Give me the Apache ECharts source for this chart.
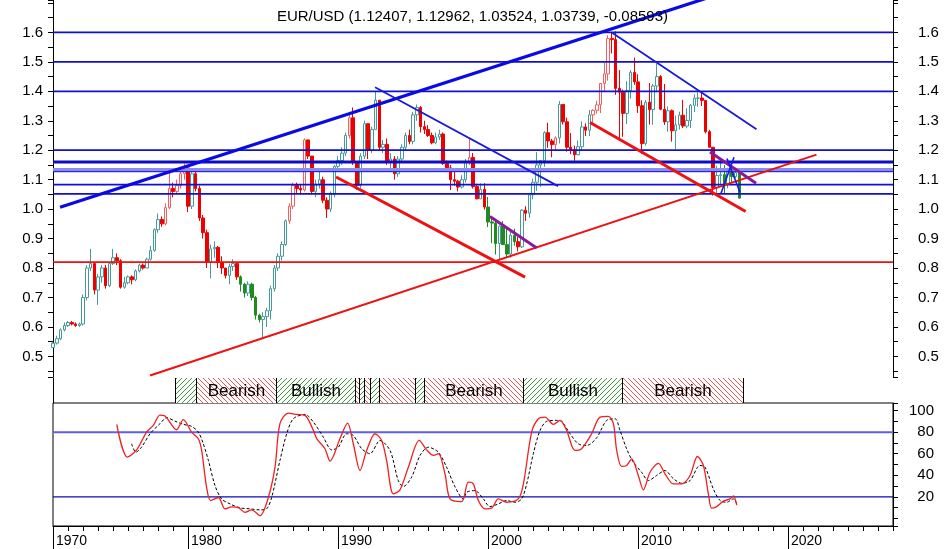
<!DOCTYPE html>
<html>
<head>
<meta charset="utf-8">
<script src="https://cdn.jsdelivr.net/npm/echarts@6/dist/echarts.min.js"></script>
<style>
html, body { margin: 0; padding: 0; background: #fff; }
#chart { width: 945px; height: 549px; }
</style>
</head>
<body>
<div id="chart"></div>
<script>
var chartDom = document.getElementById('chart');
var myChart = echarts.init(chartDom);
var option;

// quarterly EUR/USD, one row per year (Q1..Q4), open = previous close
var firstYear = 1971;
var firstOpen = 0.53;
var closes = [
  0.545, 0.56, 0.59, 0.605,
  0.615, 0.61, 0.605, 0.61,
  0.70, 0.80, 0.815, 0.725,
  0.77, 0.80, 0.74, 0.815,
  0.835, 0.825, 0.735, 0.75,
  0.77, 0.76, 0.79, 0.81,
  0.80, 0.83, 0.86, 0.93,
  0.965, 0.95, 1.005, 1.07,
  1.06, 1.08, 1.12, 1.14,
  1.01, 1.12, 1.07, 0.97,
  0.92, 0.82, 0.865, 0.87,
  0.82, 0.80, 0.775, 0.805,
  0.815, 0.77, 0.745, 0.715,
  0.745, 0.70, 0.64, 0.625,
  0.635, 0.655, 0.73, 0.80,
  0.84, 0.88, 0.96, 1.01,
  1.08, 1.07, 1.065, 1.235,
  1.18, 1.06, 1.085, 1.10,
  1.03, 1.00, 1.05, 1.145,
  1.165, 1.19, 1.25, 1.31,
  1.16, 1.08, 1.18, 1.29,
  1.20, 1.27, 1.37, 1.21,
  1.22, 1.16, 1.17, 1.12,
  1.17, 1.21, 1.25, 1.23,
  1.32, 1.345, 1.28, 1.27,
  1.25, 1.225, 1.245, 1.255,
  1.155, 1.14, 1.10, 1.095,
  1.075, 1.10, 1.16, 1.175,
  1.0765, 1.0348, 1.0671, 1.0070,
  0.9565, 0.9525, 0.8830, 0.9420,
  0.8795, 0.8475, 0.9110, 0.8895,
  0.8720, 0.9965, 0.9860, 1.0488,
  1.0910, 1.1500, 1.1645, 1.2595,
  1.2315, 1.2190, 1.2420, 1.3555,
  1.2965, 1.2100, 1.2025, 1.1845,
  1.2120, 1.2790, 1.2680, 1.3200,
  1.3355, 1.3540, 1.4265, 1.4590,
  1.5790, 1.5755, 1.4100, 1.3970,
  1.3250, 1.4030, 1.4640, 1.4320,
  1.3510, 1.2225, 1.3630, 1.3380,
  1.4180, 1.4500, 1.3390, 1.2960,
  1.3340, 1.2660, 1.2860, 1.3190,
  1.2820, 1.3010, 1.3525, 1.3765,
  1.3770, 1.3690, 1.2630, 1.2100,
  1.0730, 1.1140, 1.1170, 1.0860,
  1.1380, 1.1105, 1.1240, 1.03739
];
var highs = [
  0.55, 0.57, 0.595, 0.615,
  0.62, 0.62, 0.615, 0.615,
  0.71, 0.81, 0.865, 0.82,
  0.78, 0.81, 0.81, 0.82,
  0.865, 0.85, 0.83, 0.77,
  0.775, 0.775, 0.795, 0.815,
  0.815, 0.835, 0.875, 0.935,
  0.985, 0.975, 1.02, 1.135,
  1.09, 1.10, 1.135, 1.155,
  1.15, 1.13, 1.13, 1.08,
  0.98, 0.93, 0.88, 0.89,
  0.875, 0.84, 0.80, 0.815,
  0.83, 0.82, 0.775, 0.75,
  0.755, 0.75, 0.705, 0.645,
  0.65, 0.665, 0.74, 0.81,
  0.85, 0.89, 0.965, 1.02,
  1.09, 1.09, 1.085, 1.24,
  1.235, 1.18, 1.10, 1.13,
  1.11, 1.04, 1.06, 1.15,
  1.18, 1.21, 1.26, 1.33,
  1.345, 1.16, 1.19, 1.30,
  1.29, 1.28, 1.40, 1.37,
  1.235, 1.24, 1.19, 1.18,
  1.18, 1.22, 1.26, 1.27,
  1.33, 1.355, 1.35, 1.30,
  1.285, 1.26, 1.26, 1.27,
  1.26, 1.165, 1.15, 1.13,
  1.10, 1.115, 1.17, 1.24,
  1.1906, 1.0865, 1.0876, 1.0880,
  1.0414, 0.9720, 0.9597, 0.9440,
  0.9593, 0.9389, 0.9321, 0.9335,
  0.9051, 0.9999, 1.0097, 1.0500,
  1.1037, 1.1933, 1.1650, 1.2647,
  1.2930, 1.2385, 1.2470, 1.3667,
  1.3480, 1.3105, 1.2580, 1.2155,
  1.2330, 1.2980, 1.2910, 1.3365,
  1.3390, 1.3680, 1.4280, 1.4965,
  1.5905, 1.5980, 1.6038, 1.4720,
  1.4060, 1.4340, 1.4720, 1.5145,
  1.4580, 1.3695, 1.3705, 1.4280,
  1.4250, 1.4940, 1.4550, 1.4250,
  1.3485, 1.3385, 1.3175, 1.3310,
  1.3710, 1.3420, 1.3570, 1.3895,
  1.3965, 1.3995, 1.3700, 1.2690,
  1.2100, 1.1470, 1.1715, 1.1495,
  1.1405, 1.1615, 1.1365, 1.12962
];
var lows = [
  0.53, 0.54, 0.555, 0.585,
  0.60, 0.605, 0.60, 0.60,
  0.605, 0.69, 0.79, 0.71,
  0.675, 0.75, 0.73, 0.735,
  0.81, 0.81, 0.73, 0.73,
  0.745, 0.745, 0.755, 0.785,
  0.795, 0.80, 0.825, 0.855,
  0.92, 0.94, 0.945, 1.0,
  1.04, 1.05, 1.07, 1.10,
  0.99, 1.0, 1.06, 0.96,
  0.90, 0.80, 0.765, 0.835,
  0.80, 0.78, 0.765, 0.745,
  0.79, 0.76, 0.72, 0.70,
  0.705, 0.69, 0.625, 0.615,
  0.565, 0.60, 0.625, 0.72,
  0.79, 0.825, 0.875, 0.95,
  1.0, 1.055, 1.05, 1.06,
  1.17, 1.05, 1.04, 1.07,
  1.02, 0.97, 0.99, 1.04,
  1.13, 1.15, 1.18, 1.24,
  1.15, 1.065, 1.07, 1.17,
  1.17, 1.19, 1.27, 1.20,
  1.19, 1.15, 1.13, 1.10,
  1.11, 1.16, 1.20, 1.22,
  1.22, 1.30, 1.26, 1.255,
  1.245, 1.22, 1.22, 1.235,
  1.15, 1.13, 1.065, 1.08,
  1.06, 1.07, 1.09, 1.15,
  1.0700, 1.0335, 1.0350, 0.9985,
  0.9390, 0.8844, 0.8458, 0.8230,
  0.8780, 0.8363, 0.8350, 0.8765,
  0.8564, 0.8680, 0.9600, 0.9705,
  1.0333, 1.0620, 1.0760, 1.1435,
  1.2080, 1.1760, 1.2000, 1.2230,
  1.2870, 1.1950, 1.1865, 1.1640,
  1.1830, 1.2010, 1.2480, 1.2480,
  1.2865, 1.3240, 1.3260, 1.4000,
  1.4360, 1.5285, 1.3880, 1.2330,
  1.2455, 1.2885, 1.3750, 1.4220,
  1.3265, 1.1875, 1.2155, 1.2870,
  1.2860, 1.3970, 1.3360, 1.2860,
  1.2625, 1.2290, 1.2040, 1.2700,
  1.2750, 1.2745, 1.2755, 1.3295,
  1.3475, 1.3500, 1.2570, 1.2100,
  1.0460, 1.0520, 1.0810, 1.0520,
  1.0710, 1.0910, 1.1045, 1.03524
];

// stochastic %K (red) and %D (dashed)
var kYears = [1975.25, 1975.96, 1976.58, 1977.24, 1977.69, 1978.13, 1978.47, 1979.24, 1979.69, 1980.24,
  1980.69, 1980.91, 1981.24, 1981.51, 1982.02, 1982.47, 1982.91, 1983.36, 1983.8, 1984.24,
  1984.8, 1985.36, 1985.8, 1986.13, 1986.69, 1987.24, 1987.8, 1988.36, 1988.58, 1989.13,
  1989.47, 1990.13, 1990.64, 1991.02, 1991.47, 1991.91, 1992.47, 1992.91, 1993.24, 1993.69,
  1994.13, 1994.69, 1995.42, 1995.91, 1996.36, 1996.69, 1997.13, 1997.47, 1998.24, 1998.69,
  1999.02, 1999.36, 1999.8, 2000.24, 2000.69, 2001.24, 2002.02, 2002.36, 2002.91, 2003.36,
  2003.8, 2004.36, 2004.8, 2005.24, 2005.8, 2006.24, 2006.91, 2007.47, 2008.02, 2008.36,
  2008.58, 2008.91, 2009.24, 2009.58, 2010.02, 2010.36, 2010.8, 2011.36, 2011.8, 2012.36,
  2012.91, 2013.47, 2013.96, 2014.36, 2014.69, 2014.91, 2015.24, 2015.69, 2016.13, 2016.36, 2016.58];
var kValues = [87.2, 56.8, 63.6, 80, 86.2, 95.8, 95, 82.2, 91.5, 80,
  73.9, 63, 28.9, 16.6, 19.4, 8.8, 10.7, 10, 5.7, 7.9,
  2.6, 19.6, 47.5, 87.8, 97.7, 96.4, 95.5, 81.6, 73.9, 64.6,
  53.1, 73.9, 88.4, 69.2, 44.4, 63, 78.5, 72.3, 53.7, 22.8,
  26.5, 47.5, 72.3, 63.6, 58.4, 60, 41.4, 18.1, 15.6, 33.6,
  32, 16.6, 8.8, 9.5, 18.1, 15, 18.1, 32, 80, 92.4,
  94, 87.2, 90.9, 81.6, 63, 64.6, 78.5, 94, 94.6, 87.8,
  63, 48.2, 49.1, 55.3, 39.8, 26.5, 42.8, 51, 41.4, 32,
  32, 39.8, 57.4, 49.1, 22.8, 9.5, 11, 16, 18.1, 21, 12.3];
var dYears = [1976.24, 1976.53, 1976.9, 1977.47, 1978.13, 1978.58, 1979.13, 1979.69, 1980.24, 1980.69,
  1981.02, 1981.36, 1981.8, 1982.24, 1982.8, 1983.47, 1984.13, 1984.8, 1985.24, 1985.58,
  1986.13, 1986.58, 1987.02, 1987.8, 1988.36, 1989.02, 1989.58, 1990.02, 1990.58, 1991.02,
  1991.58, 1992.13, 1992.8, 1993.47, 1994.02, 1994.36, 1994.91, 1995.47, 1996.02, 1996.69,
  1997.24, 1997.8, 1998.36, 1998.58, 1999.13, 1999.69, 2000.13, 2000.69, 2001.24, 2001.8,
  2002.24, 2002.58, 2003.02, 2003.47, 2003.91, 2004.58, 2004.91, 2005.47, 2006.02, 2006.58,
  2007.24, 2007.91, 2008.47, 2008.8, 2009.24, 2009.69, 2010.24, 2010.69, 2011.24, 2011.8,
  2012.36, 2012.91, 2013.47, 2014.13, 2014.47, 2015.02, 2015.47, 2015.91, 2016.36, 2016.58];
var dValues = [69.2, 61.4, 66, 78.5, 87.8, 93.4, 90.2, 87.2, 85.3, 80,
  69.2, 53.7, 30.5, 18.1, 13.5, 9.8, 8.9, 7.9, 8.9, 19.6,
  53.7, 78.5, 92.4, 96.4, 89.3, 75.4, 63.6, 66, 78.5, 76.9,
  64.6, 60, 72.3, 63, 35.1, 29.6, 38.3, 58.4, 66, 61.4,
  47.5, 29.3, 18.1, 24.3, 25.8, 18.1, 11, 13.5, 16.6, 15,
  18.1, 32, 60, 81.6, 90, 90.9, 90, 78.5, 69.2, 67.6,
  74.7, 90.9, 92.4, 81.6, 64.6, 52.1, 42.8, 35.1, 39.8, 44.4,
  36.8, 32.6, 35.1, 49.1, 47.5, 27.4, 16.6, 15, 18.1, 14];

// trend regime band
var bandStart = [1979.1, 1980.55, 1985.85, 1991.1, 1991.4, 1991.75, 1992.1, 1992.75, 1995.1, 1995.75, 2002.35, 2008.9];
var bandEnd   = [1980.55, 1985.85, 1991.1, 1991.4, 1991.75, 1992.1, 1992.75, 1995.1, 1995.75, 2002.35, 2008.9, 2017.0];
var bandKind  = [1, 0, 1, 0, 1, 0, 1, 0, 1, 0, 1, 0];
var bandText  = ['', 'Bearish', 'Bullish', '', '', '', '', '', '', 'Bearish', 'Bullish', 'Bearish'];

// drawn levels and trend lines
var blueLevels = [1.6, 1.5, 1.4, 1.2, 1.083, 1.052];
var blueBoldLevel = 1.16;
var lightLevel = 1.133;
var lastLevel = 1.127;
var redLevel = 0.82;
var stochLevels = [80, 20];

var blueThick = [[1971.47, 1.006], [2014.8, 1.72]];
var blueThin1 = [[1992.47, 1.414], [2004.67, 1.078]];
var blueThin2 = [[2008.25, 1.60], [2017.9, 1.271]];
var redThick1 = [[1989.87, 1.109], [2002.47, 0.769]];
var redThick2 = [[2006.8, 1.294], [2017.18, 0.992]];
var redThin = [[1977.47, 0.435], [2021.9, 1.185]];
var purple1 = [[2000.13, 0.975], [2003.25, 0.868]];
var purple2 = [[2014.8, 1.194], [2017.87, 1.088]];
var blueX1 = [[2015.53, 1.053], [2016.4, 1.176]];
var blueX2 = [[2015.93, 1.172], [2016.8, 1.057]];

var decades = [1971, 1980, 1990, 2000, 2010, 2020];

// candle colouring periods
var greenRanges = [[1983.4, 1985.1], [1999.9, 2001.9], [2015.6, 2017]];
var pinkRanges = [[1978.4, 1980.0], [1986.7, 1988.0], [1990.6, 1990.9], [1998.6, 1998.9], [2003.9, 2004.6], [2007.0, 2008.3]];

var FONT = 'Liberation Sans, Arial, sans-serif';
var X0 = 1971, X1 = 2027;

function inRange(t, ranges) {
  for (var i = 0; i < ranges.length; i++) {
    if (t >= ranges[i][0] && t <= ranges[i][1]) return true;
  }
  return false;
}

var candles = [];
var prev = firstOpen;
for (var i = 0; i < closes.length; i++) {
  var t = firstYear + i / 4;
  var o = prev, c = closes[i];
  var st;
  if (c >= o) {
    var bc = inRange(t, pinkRanges) ? '#f06060' : '#459a9a';
    st = { color: '#ffffff', borderColor: bc, color0: '#ffffff', borderColor0: bc };
  } else {
    var fc = inRange(t, greenRanges) ? '#1e8c1e' : '#ee0000';
    st = { color: fc, borderColor: fc, color0: fc, borderColor0: fc };
  }
  candles.push({
    value: [t, o, c, Math.min(lows[i], o, c), Math.max(highs[i], o, c)],
    itemStyle: st
  });
  prev = c;
}

function pairs(xs, ys) {
  var out = [];
  for (var i = 0; i < xs.length; i++) out.push([xs[i], ys[i]]);
  return out;
}

function seg(points, color, width, xi, yi, z) {
  return {
    type: 'line', xAxisIndex: xi, yAxisIndex: yi, data: points,
    symbol: 'none', silent: true, z: z || 3,
    lineStyle: { color: color, width: width }
  };
}

function hLine(v, color, width, xi, yi) {
  return seg([[X0, v], [X1, v]], color, width, xi, yi, 3);
}

function makeHatch(color, back) {
  var s = 5;
  var cv = document.createElement('canvas');
  cv.width = s; cv.height = s;
  var ctx = cv.getContext('2d');
  ctx.fillStyle = '#ffffff';
  ctx.fillRect(0, 0, s, s);
  ctx.strokeStyle = color;
  ctx.lineWidth = 1;
  ctx.beginPath();
  if (back) {
    ctx.moveTo(-1, -1); ctx.lineTo(s + 1, s + 1);
    ctx.moveTo(-1, s - 1); ctx.lineTo(1, s + 1);
    ctx.moveTo(s - 1, -1); ctx.lineTo(s + 1, 1);
  } else {
    ctx.moveTo(-1, s + 1); ctx.lineTo(s + 1, -1);
    ctx.moveTo(-1, 1); ctx.lineTo(1, -1);
    ctx.moveTo(s - 1, s + 1); ctx.lineTo(s + 1, s - 1);
  }
  ctx.stroke();
  return cv;
}
var redHatch = makeHatch('#e05555', true);
var greenHatch = makeHatch('#3a9a3a', false);

function mainLabel(v) {
  var r = Math.round(v * 10) / 10;
  if (Math.abs(v - r) > 1e-6 || r < 0.5 || r > 1.6) return '';
  return r.toFixed(1);
}

function mainY(pos, margin) {
  return {
    gridIndex: 0, type: 'value', position: pos, min: 0.43, max: 1.71, splitNumber: 13,
    axisLine: { show: true, onZero: false, lineStyle: { color: '#000' } },
    axisTick: { show: true, length: 5, lineStyle: { color: '#000' } },
    minorTick: { show: true, splitNumber: 2, length: 5, lineStyle: { color: '#000' } },
    splitLine: { show: false },
    axisLabel: { color: '#000', fontSize: 15, fontFamily: FONT, margin: margin, formatter: mainLabel }
  };
}

var series = [];

series.push({
  type: 'candlestick', xAxisIndex: 0, yAxisIndex: 0,
  dimensions: ['t', 'open', 'close', 'lowest', 'highest'],
  encode: { x: 't', y: ['open', 'close', 'lowest', 'highest'] },
  barWidth: 3, data: candles, z: 2, silent: true,
  itemStyle: { borderWidth: 1 }
});

blueLevels.forEach(function (v) { series.push(hLine(v, '#1010d0', 1.7, 0, 0)); });
series.push(hLine(lightLevel, '#8c8cf0', 4, 0, 0));
series.push(hLine(lastLevel, '#1010d0', 1, 0, 0));
series.push(hLine(blueBoldLevel, '#0c0cc4', 2.8, 0, 0));
series.push(hLine(redLevel, '#ee1111', 1.7, 0, 0));

series.push(seg(blueThick, '#0a0ae6', 3.2, 0, 0, 4));
series.push(seg(blueThin1, '#1a1ad8', 1.8, 0, 0, 4));
series.push(seg(blueThin2, '#1a1ad8', 1.8, 0, 0, 4));
series.push(seg(redThick1, '#ee1111', 3, 0, 0, 4));
series.push(seg(redThick2, '#ee1111', 3, 0, 0, 4));
series.push(seg(redThin, '#ee1111', 2, 0, 0, 4));
series.push(seg(purple1, '#8a1a9a', 3, 0, 0, 4));
series.push(seg(purple2, '#8a1a9a', 3, 0, 0, 4));
series.push(seg(blueX1, '#1a1ae0', 1.6, 0, 0, 5));
series.push(seg(blueX2, '#1a1ae0', 1.6, 0, 0, 5));

// regime band
series.push({
  type: 'custom', xAxisIndex: 1, yAxisIndex: 2, silent: true,
  encode: { x: [0, 1] },
  data: bandStart.map(function (s, i) { return [s, bandEnd[i], bandKind[i]]; }),
  renderItem: function (params, api) {
    var a = api.coord([api.value(0), 1]);
    var b = api.coord([api.value(1), 0]);
    var x0 = Math.round(a[0]) + 0.5, x1 = Math.round(b[0]) + 0.5;
    var kids = [
      { type: 'rect', shape: { x: x0, y: a[1], width: x1 - x0, height: b[1] - a[1] },
        style: { fill: { image: api.value(2) ? greenHatch : redHatch, repeat: 'repeat' } } },
      { type: 'line', shape: { x1: x0, y1: a[1], x2: x0, y2: b[1] }, style: { stroke: '#000', lineWidth: 1 } },
      { type: 'line', shape: { x1: x1, y1: a[1], x2: x1, y2: b[1] }, style: { stroke: '#000', lineWidth: 1 } }
    ];
    var txt = bandText[params.dataIndex];
    if (txt) {
      kids.push({ type: 'text', style: {
        text: txt, x: (x0 + x1) / 2, y: (a[1] + b[1]) / 2 + 1,
        align: 'center', verticalAlign: 'middle',
        fontSize: 17, fontFamily: FONT, fill: '#000'
      } });
    }
    return { type: 'group', children: kids };
  }
});

// stochastic panel
series.push(hLine(stochLevels[0], '#5f5fe8', 2, 2, 3));
series.push(hLine(stochLevels[1], '#0a0ab4', 1.2, 2, 3));
series.push({
  type: 'line', xAxisIndex: 2, yAxisIndex: 3, data: pairs(dYears, dValues),
  symbol: 'none', smooth: 0.3, silent: true, z: 4,
  lineStyle: { color: '#000', width: 1, type: [3, 2] }
});
series.push({
  type: 'line', xAxisIndex: 2, yAxisIndex: 3, data: pairs(kYears, kValues),
  symbol: 'none', smooth: 0.3, silent: true, z: 5,
  lineStyle: { color: '#f02020', width: 1.3 }
});
series.push({
  type: 'custom', xAxisIndex: 2, yAxisIndex: 3, silent: true, clip: false,
  data: decades.map(function (d) { return [d]; }),
  encode: { x: 0 },
  renderItem: function (params, api) {
    var p = api.coord([api.value(0), -7]);
    var x = Math.round(p[0]) + 0.5;
    return { type: 'line', shape: { x1: x, y1: p[1], x2: x, y2: p[1] + 23 },
      style: { stroke: '#000', lineWidth: 1 } };
  }
});

option = {
  animation: false,
  backgroundColor: '#ffffff',
  title: {
    text: 'EUR/USD (1.12407, 1.12962, 1.03524, 1.03739, -0.08593)',
    left: 'center', top: 4,
    textStyle: { fontSize: 15, fontWeight: 'normal', fontFamily: FONT, color: '#000' }
  },
  grid: [
    { left: 53, right: 52, top: 0, height: 377, outerBoundsMode: 'none' },
    { left: 53, right: 52, top: 378, height: 25, outerBoundsMode: 'none' },
    { left: 53, right: 52, top: 403, height: 123, show: true, borderColor: '#000', borderWidth: 1, backgroundColor: 'transparent', outerBoundsMode: 'none' }
  ],
  xAxis: [
    { gridIndex: 0, type: 'value', min: X0, max: X1, show: false },
    { gridIndex: 1, type: 'value', min: X0, max: X1, show: false },
    {
      gridIndex: 2, type: 'value', min: X0, max: X1, interval: 1,
      axisLine: { show: true, onZero: false, lineStyle: { color: '#000' } },
      axisTick: { show: true, length: 5, lineStyle: { color: '#000' } },
      splitLine: { show: false },
      axisLabel: {
        color: '#000', fontSize: 14, fontFamily: FONT, margin: 8, align: 'left', padding: [0, 0, 0, 3],
        formatter: function (v) {
          if (v === X0) return '1970';
          return v % 10 === 0 ? String(v) : '';
        }
      }
    }
  ],
  yAxis: [
    mainY('left', 10),
    mainY('right', 25),
    {
      gridIndex: 1, type: 'value', min: 0, max: 1, position: 'left',
      axisLine: { show: true, onZero: false, lineStyle: { color: '#000' } },
      axisTick: { show: false }, axisLabel: { show: false }, splitLine: { show: false }
    },
    {
      gridIndex: 2, type: 'value', position: 'right', min: -7, max: 107, splitNumber: 11,
      axisLine: { show: true, onZero: false, lineStyle: { color: '#000' } },
      axisTick: { show: true, length: 5, lineStyle: { color: '#000' } },
      splitLine: { show: false },
      axisLabel: {
        color: '#000', fontSize: 15, fontFamily: FONT, margin: 41, align: 'right',
        formatter: function (v) {
          return (v > 0 && v <= 100 && Math.abs(v % 20) < 1e-6) ? String(v) : '';
        }
      }
    }
  ],
  series: series
};

option && myChart.setOption(option);
</script>
</body>
</html>
